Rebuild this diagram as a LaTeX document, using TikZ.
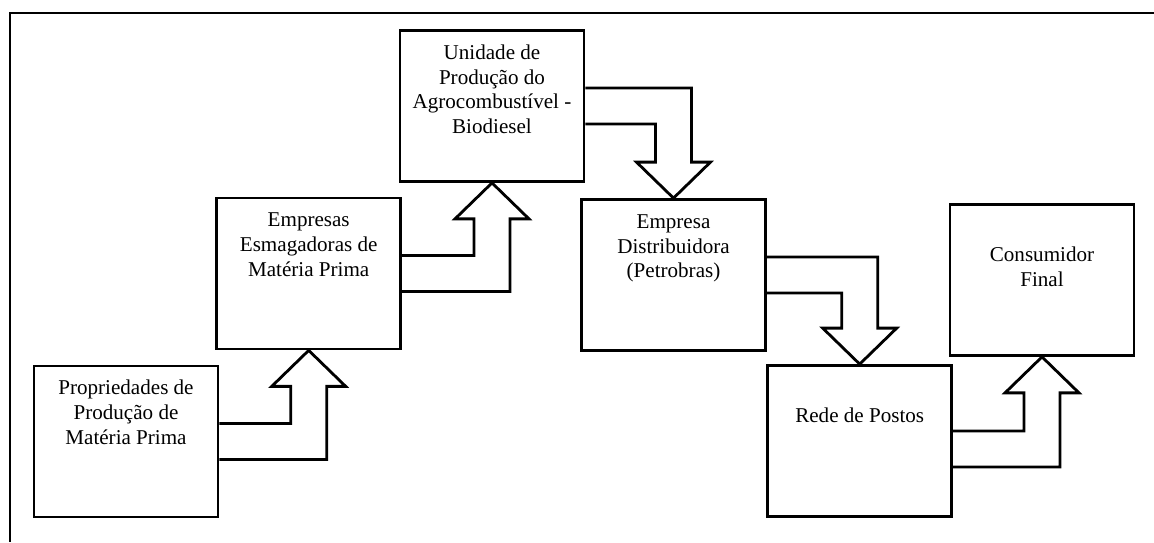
\documentclass[tikz,border=0pt]{standalone}
\usepackage{fontspec}
\setmainfont{Liberation Serif}
\usetikzlibrary{calc}

\tikzset{
  stage/.style={draw,rectangle,line width=1.6pt,inner sep=0pt,minimum width=3.68cm,minimum height=3.02cm},
  flow/.style={line width=1.6pt,line join=miter},
  frame/.style={line width=1.3pt}
}
% text of a box, set from its top edge
\newcommand{\stagetext}[2][16.3pt]{\parbox[c][85.6pt][t]{100pt}{\centering\fontsize{12}{14.1}\selectfont\rule{0pt}{#1}#2}}
% bent block arrows: source east side to target south / north
\newcommand{\flowup}[3][0]{\draw[flow] ($(#2.east)+(0,#1-18)$) -| ($(#3.south)+(-18,36)$) -- ++(-19,0) -- (#3.south) -- ($(#3.south)+(37,36)$) -- ++(-19,0) |- ($(#2.east)+(0,#1+18)$);}
\newcommand{\flowdown}[3][0]{\draw[flow] ($(#2.east)+(0,#1-18)$) -| ($(#3.north)+(18,-36)$) -- ++(19,0) -- (#3.north) -- ($(#3.north)+(-37,-36)$) -- ++(19,0) |- ($(#2.east)+(0,#1+18)$);}

\begin{document}
\begin{tikzpicture}[x=0.02cm,y=-0.02cm]
\useasboundingbox (0,0) rectangle (1154,542);
% Outer frame
\draw[frame] (1154,13) -- (10,13) -- (10,542);

% Chain of the supply
\node[stage] (prop) at (126,441.5) {\stagetext{Propriedades de\\Produção de\\Matéria Prima}};
\node[stage] (esmag) at (308.7,273.5) {\stagetext{Empresas\\Esmagadoras de\\Matéria Prima}};
\node[stage] (unid) at (492,106) {\stagetext{Unidade de\\Produção do\\Agrocombustível -\\Biodiesel}};
\node[stage] (distr) at (673.5,275) {\stagetext{Empresa\\Distribuidora\\(Petrobras)}};
\node[stage] (postos) at (859.7,441) {\stagetext[32.3pt]{Rede de Postos}};
\node[stage] (consum) at (1042,280) {\stagetext[32.3pt]{Consumidor\\Final}};

% Block arrows
\flowup{prop}{esmag}
\flowup{esmag}{unid}
\flowdown{unid}{distr}
\flowdown{distr}{postos}
\flowup[8]{postos}{consum}
\end{tikzpicture}
\end{document}
